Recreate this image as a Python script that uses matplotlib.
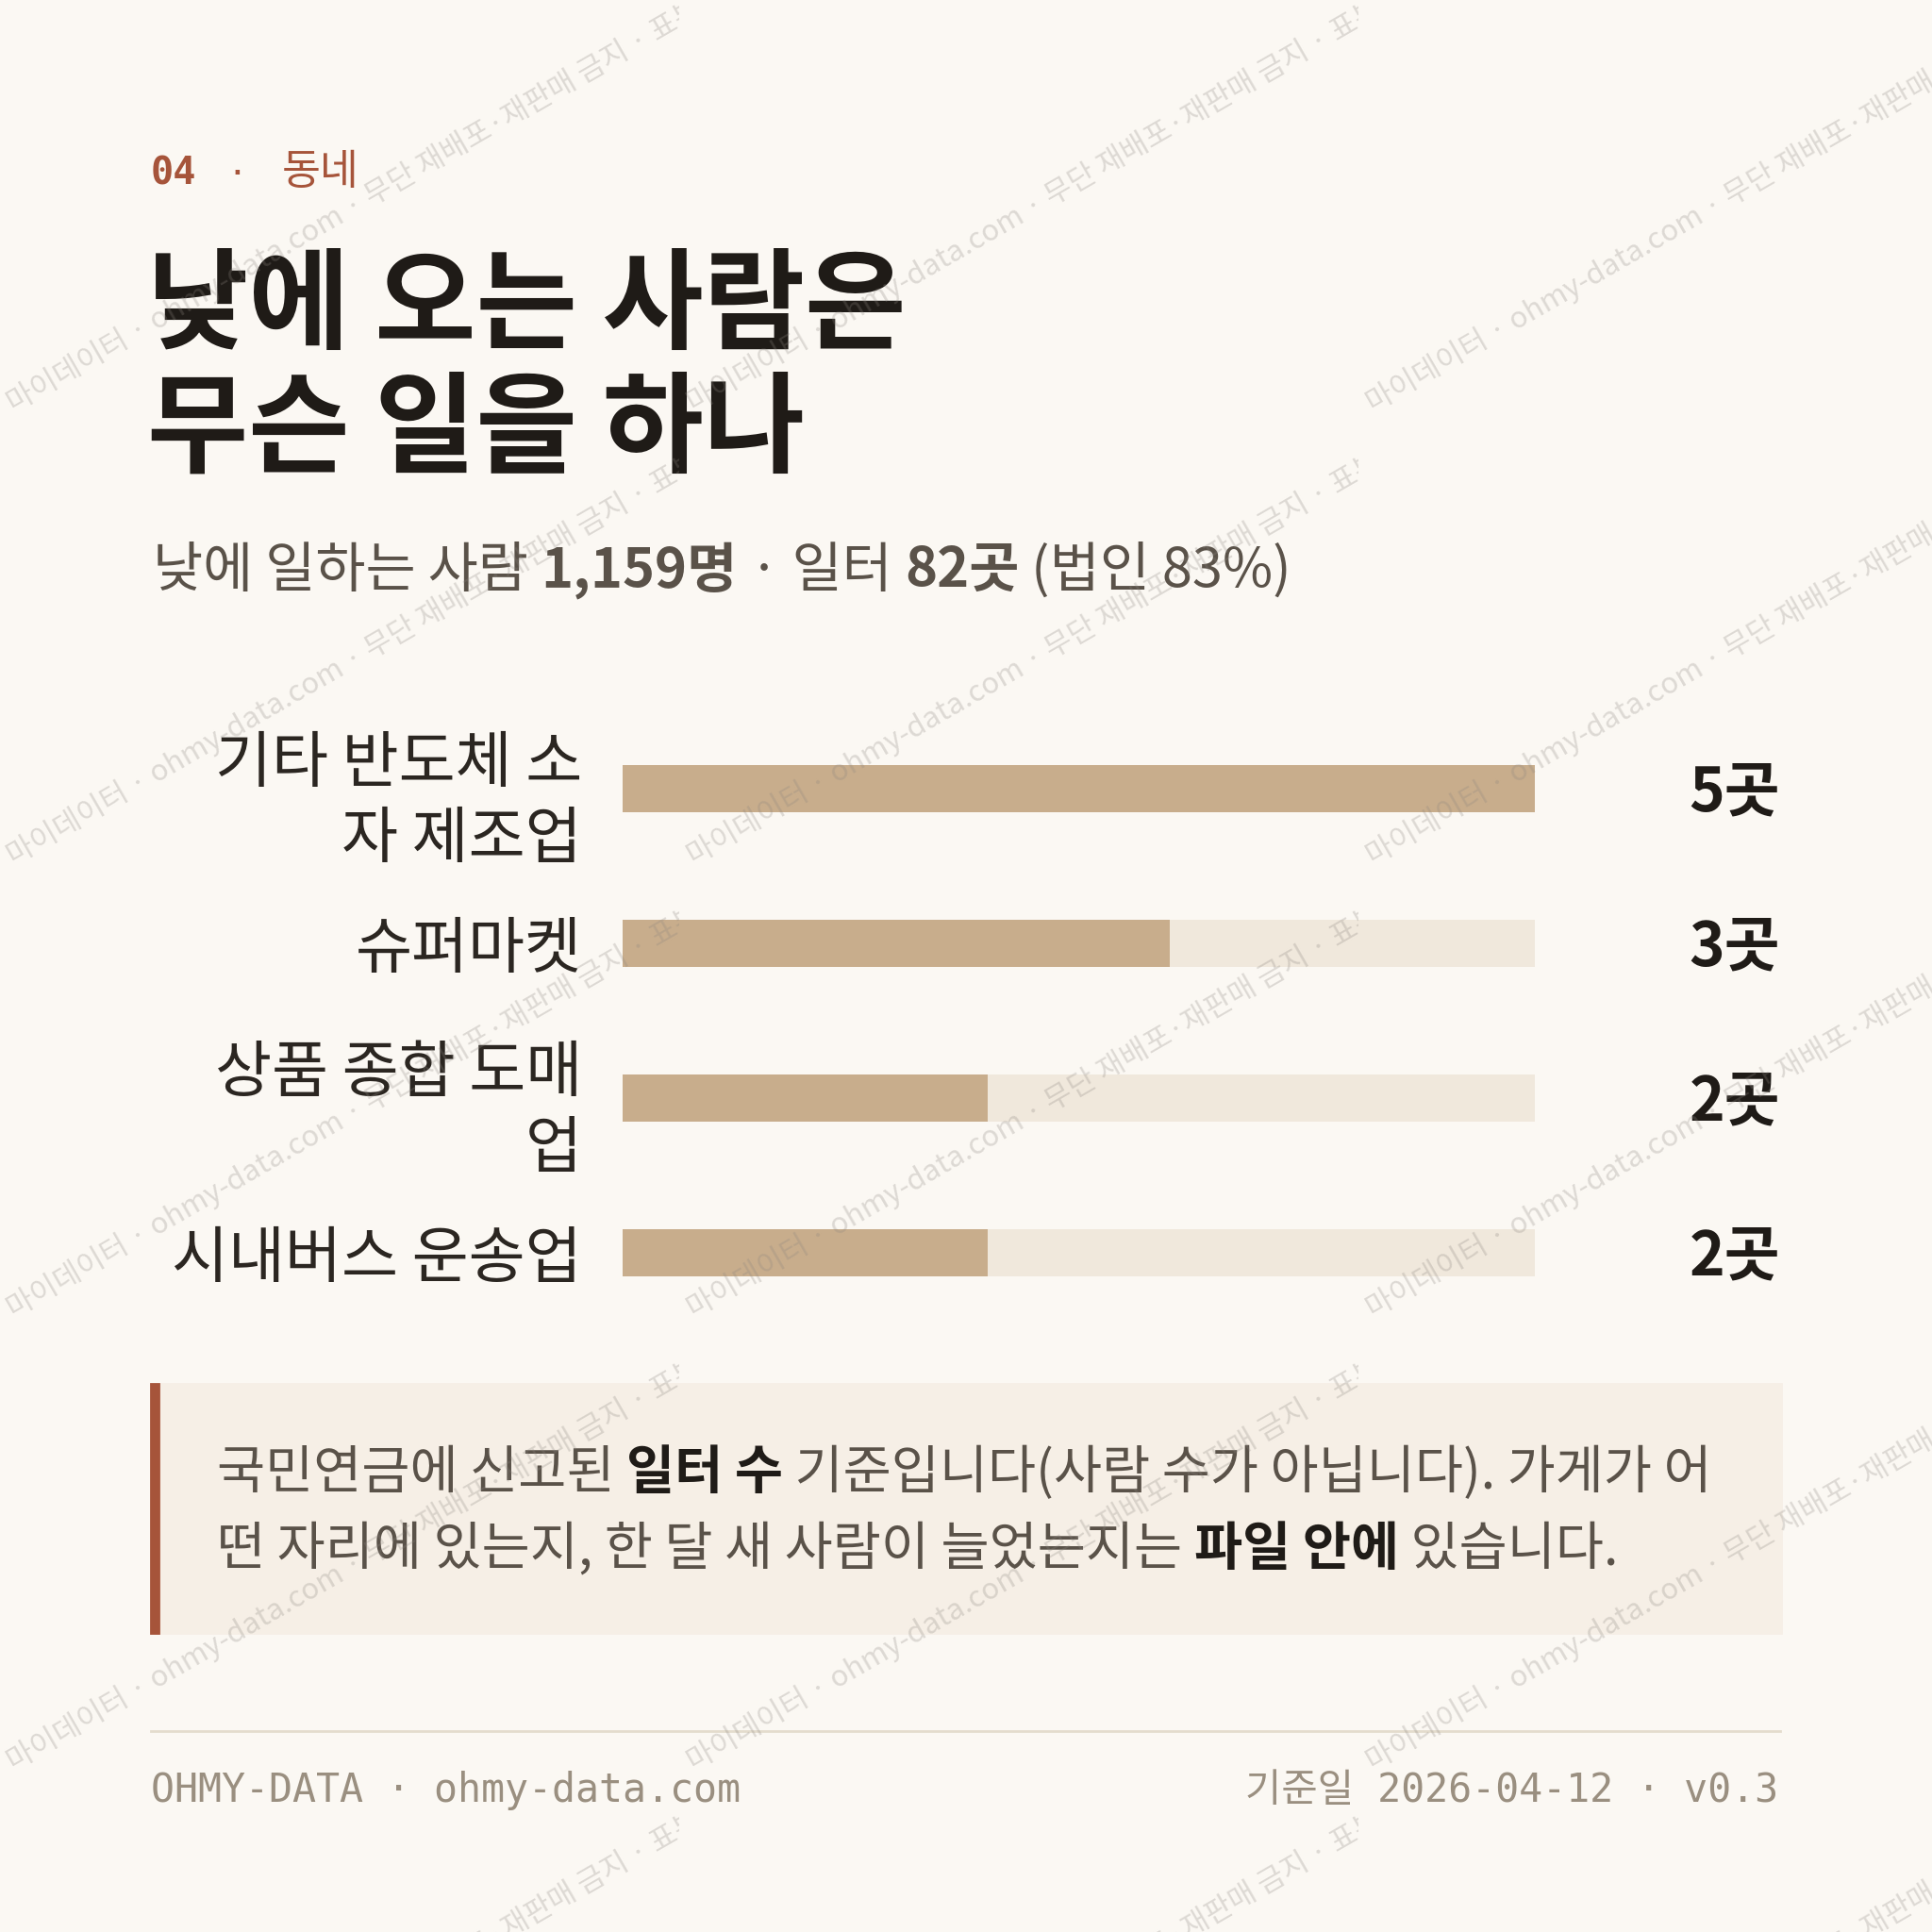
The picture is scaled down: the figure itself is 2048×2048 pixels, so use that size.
import matplotlib
matplotlib.use('Agg')
import matplotlib.pyplot as plt
from matplotlib.patches import Rectangle
from matplotlib.lines import Line2D
from matplotlib import transforms

# 데이터
categories = ['기타 반도체 소\n자 제조업', '슈퍼마켓', '상품 종합 도매\n업', '시내버스 운송업']
counts = [5, 3, 2, 2]
value_labels = [f'{c}곳' for c in counts]

kicker_num = '04'
kicker_text = '동네'
title_lines = ['낮에 오는 사람은', '무슨 일을 하나']
subtitle = [('낮에 일하는 사람 ', 'normal'), ('1,159명', 'bold'), (' · 일터 ', 'normal'),
            ('82곳', 'bold'), (' (법인 83%)', 'normal')]
note_lines = [
    [('국민연금에 신고된 ', 'normal'), ('일터 수', 'bold'), (' 기준입니다(사람 수가 아닙니다). 가게가 어', 'normal')],
    [('떤 자리에 있는지, 한 달 새 사람이 늘었는지는 ', 'normal'), ('파일 안에', 'bold'), (' 있습니다.', 'normal')],
]
footer_left = 'OHMY-DATA · ohmy-data.com'
footer_right = '기준일 2026-04-12 · v0.3'
watermark = '· 마이데이터 · ohmy-data.com · 무단 재배포·재판매 금지 · 표본'

# 색
BG = '#fbf8f3'
INK = '#1f1b17'
BODY = '#5a5249'
ACCENT = '#a6543a'
BAR = '#c8ad8c'
TRACK = '#f0e8dc'
NOTE_BG = '#f6efe6'
MUTED = '#9a8f80'
RULE = '#e4dccd'

CJK = ['Noto Sans CJK KR', 'DejaVu Sans']
MONO = ['DejaVu Sans Mono', 'Noto Sans CJK KR']
plt.rcParams['font.family'] = CJK

W = 2048
fig = plt.figure(figsize=(10.24, 10.24), dpi=200, facecolor=BG)
r = fig.canvas.get_renderer()


def fx(x):
    return x / W


def fy(y):
    return 1 - y / W


def rich(x, y, parts, size, colors, family=CJK):
    # 굵기가 섞인 한 줄을 조각별로 이어 붙인다
    for (s, w), c in zip(parts, colors):
        t = fig.text(fx(x), fy(y), s, fontsize=size, fontweight=w, color=c,
                     family=family, ha='left', va='baseline')
        x += t.get_window_extent(renderer=r).width
    return x


# 머리말
fig.text(fx(160), fy(195), kicker_num, fontsize=14.5, fontweight='bold', color=ACCENT,
         family=MONO, va='baseline')
fig.text(fx(240), fy(195), '·', fontsize=13, color=ACCENT, family=MONO, va='baseline')
fig.text(fx(299), fy(195), kicker_text, fontsize=16, color=ACCENT, va='baseline')

# 제목
for i, line in enumerate(title_lines):
    fig.text(fx(156), fy(361 + i * 131), line, fontsize=42, fontweight='bold',
             color=INK, va='baseline')

# 부제
rich(162, 622, subtitle, 20.8, [BODY] * 5)

# 막대
ax = fig.add_axes([fx(660), fy(1410), (1627 - 660) / W, (1410 - 754) / W])
ax.set_facecolor('none')
ypos = list(range(len(categories)))
vmax = max(counts)
ax.barh(ypos, [vmax] * len(counts), height=0.31, color=TRACK, zorder=1)
ax.barh(ypos, counts, height=0.31, color=BAR, zorder=2)
ax.set_xlim(0, vmax)
ax.set_ylim(len(categories) - 0.5, -0.5)
ax.set_xticks([])
ax.set_yticks(ypos)
ax.set_yticklabels(categories, fontsize=23.5, color='#2b2621', linespacing=1.27)
ax.tick_params(axis='y', length=0, pad=15.5)
for s in ax.spines.values():
    s.set_visible(False)

tr = transforms.blended_transform_factory(fig.transFigure, ax.transData)
for i, lab in enumerate(value_labels):
    ax.text(fx(1887), i + 0.03, lab, transform=tr, ha='right', va='center', fontsize=23,
            fontweight='bold', color=INK, clip_on=False)

# 설명 상자
fig.patches.append(Rectangle((fx(160), fy(1731)), (1888 - 160) / W, (1731 - 1467) / W,
                             transform=fig.transFigure, color=NOTE_BG, zorder=1))
fig.patches.append(Rectangle((fx(160), fy(1731)), 8 / W, (1731 - 1467) / W,
                             transform=fig.transFigure, color=ACCENT, zorder=1.1))
for i, parts in enumerate(note_lines):
    cols = [INK if w == 'bold' else BODY for _, w in parts]
    rich(230, 1578 + i * 81, parts, 20, cols)

# 바닥글
fig.lines.append(Line2D([fx(160), fx(1887)], [fy(1835), fy(1835)], transform=fig.transFigure,
                        color=RULE, lw=1))
fig.text(fx(160), fy(1898), footer_left, fontsize=15, color=MUTED, family=MONO, va='center')
fig.text(fx(1885), fy(1898), footer_right, fontsize=15, color=MUTED, family=MONO,
         va='center', ha='right')

# 워터마크 (720x480 타일)
for x0 in range(0, W, 720):
    for y0 in range(0, W + 480, 480):
        t = fig.text(fx(x0 - 6), fy(y0 + 450), watermark, fontsize=11.2, color='#8c8680',
                     alpha=0.27, rotation=30, rotation_mode='anchor', ha='left',
                     va='baseline', zorder=10)
        clip = Rectangle((fx(x0), fy(y0 + 480)), 720 / W, 480 / W, transform=fig.transFigure)
        t.set_clip_path(clip)

fig.savefig('out.png', dpi=200, facecolor=BG)
